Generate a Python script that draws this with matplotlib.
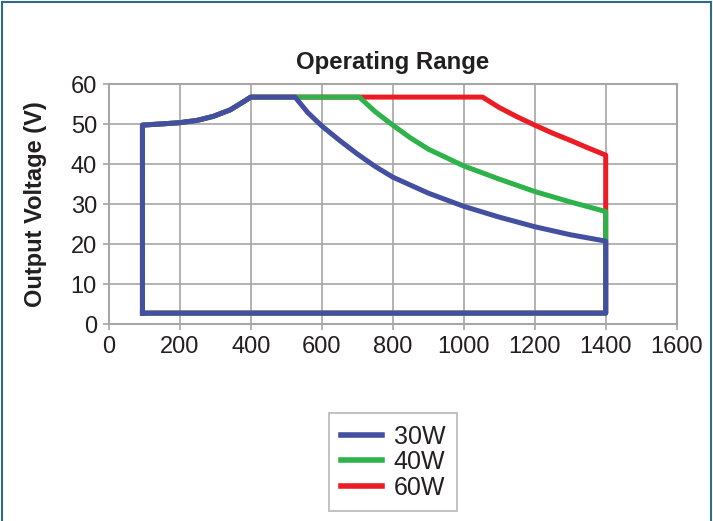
import matplotlib.pyplot as plt
from matplotlib.lines import Line2D

plt.rcParams['font.family'] = ['Liberation Sans', 'DejaVu Sans']

# Data (x = output current axis, y = output voltage)
x_30w = [95, 95, 150, 200, 250, 295, 342, 379, 400, 525, 560, 600, 650, 700, 750, 800, 900,
         1000, 1100, 1200, 1300, 1400, 1400, 95]
y_30w = [2.8, 49.8, 50.1, 50.4, 51.0, 52.0, 53.6, 55.6, 56.8, 56.8, 53.0, 49.6, 46.0, 42.6, 39.5,
         36.8, 32.8, 29.5, 26.8, 24.4, 22.4, 20.8, 2.8, 2.8]

x_40w = [95, 95, 150, 200, 250, 295, 342, 379, 400, 706, 750, 800, 850, 900, 1000, 1100, 1200,
         1300, 1400, 1400, 95]
y_40w = [2.8, 49.8, 50.1, 50.4, 51.0, 52.0, 53.6, 55.6, 56.8, 56.8, 53.2, 49.8, 46.6, 43.8, 39.6,
         36.3, 33.2, 30.6, 28.2, 2.8, 2.8]

x_60w = [95, 95, 150, 200, 250, 295, 342, 379, 400, 1053, 1100, 1150, 1200, 1250, 1300, 1350,
         1400, 1400, 95]
y_60w = [2.8, 49.8, 50.1, 50.4, 51.0, 52.0, 53.6, 55.6, 56.8, 56.8, 54.2, 51.9, 49.8, 47.8, 46.0,
         44.1, 42.3, 2.8, 2.8]

labels = ['30W', '40W', '60W']
colors = ['#4350A2', '#2DB34A', '#ED1C24']

x_ticks = [0, 200, 400, 600, 800, 1000, 1200, 1400, 1600]
y_ticks = [0, 10, 20, 30, 40, 50, 60]

txt = '#231F20'
grey = '#A6A6A6'

fig = plt.figure(figsize=(7.13, 5.21), dpi=100)
ax = fig.add_axes([0.1525, 0.3775, 0.7966, 0.4607])

# draw 60W first so 30W ends up on top
ax.plot(x_60w, y_60w, color=colors[2], lw=3.6, solid_joinstyle='round', zorder=3)
ax.plot(x_40w, y_40w, color=colors[1], lw=3.6, solid_joinstyle='round', zorder=4)
ax.plot(x_30w, y_30w, color=colors[0], lw=3.6, solid_joinstyle='round', zorder=5)

ax.set_xlim(0, 1600)
ax.set_ylim(0, 60)
ax.set_xticks(x_ticks)
ax.set_yticks(y_ticks)
ax.tick_params(axis='both', labelsize=17, colors=grey, labelcolor=txt, length=4.5, width=1.2, pad=4)
ax.grid(True, color=grey, lw=1.2)
ax.set_axisbelow(True)
for s in ax.spines.values():
    s.set_color(grey)
    s.set_linewidth(1.5)

ax.set_title('Operating Range', fontsize=17.3, fontweight='bold', color=txt, pad=11)
ax.set_ylabel('Output Voltage (V)', fontsize=17, fontweight='bold', color=txt, labelpad=17)

handles = [Line2D([0], [0], color=c, lw=4) for c in colors]
leg = fig.legend(handles, labels, loc='center', bbox_to_anchor=(0.5512, 0.1132),
                 fontsize=18, frameon=True, fancybox=False, edgecolor=grey,
                 handlelength=1.64, handletextpad=0.48, labelspacing=0.06,
                 borderpad=0.45, borderaxespad=0)
leg.get_frame().set_linewidth(1.2)
for t in leg.get_texts():
    t.set_color(txt)

# outer frame of the figure
frame = '#2F6A8C'
fig.add_artist(Line2D([0.003, 0.003], [0, 0.996], color=frame, lw=1.5, transform=fig.transFigure))
fig.add_artist(Line2D([0.003, 0.997], [0.996, 0.996], color=frame, lw=1.5, transform=fig.transFigure))
fig.add_artist(Line2D([0.997, 0.997], [0, 0.996], color=frame, lw=1.5, transform=fig.transFigure))

fig.savefig('out.png', dpi=100)
